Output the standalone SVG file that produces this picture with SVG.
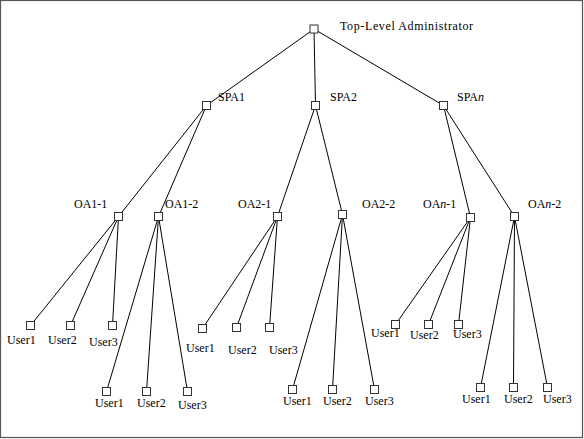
<svg xmlns="http://www.w3.org/2000/svg" width="584" height="439" viewBox="0 0 584 439">
<style>
.frame{fill:#fff;stroke:#555;stroke-width:1.2}
.edge{stroke:#000;stroke-width:1;fill:none}
.box{fill:#fff;stroke:#333;stroke-width:1}
.lbl{font-family:"Liberation Serif","Times New Roman",serif;font-size:12px;fill:#000}
.it{font-style:italic}
</style>
<rect class="frame" x="0.5" y="0.5" width="582" height="437"/>
<g id="connectors">
<line class="edge" x1="314" y1="29" x2="206.5" y2="105.5"/>
<line class="edge" x1="314" y1="29" x2="315.5" y2="105.5"/>
<line class="edge" x1="314" y1="29" x2="443.5" y2="105.5"/>
<line class="edge" x1="206.5" y1="105.5" x2="118.5" y2="216.5"/>
<line class="edge" x1="206.5" y1="105.5" x2="158.5" y2="216.5"/>
<line class="edge" x1="315.5" y1="105.5" x2="277.5" y2="216.5"/>
<line class="edge" x1="315.5" y1="105.5" x2="342.5" y2="214.5"/>
<line class="edge" x1="443.5" y1="105.5" x2="470.5" y2="217.5"/>
<line class="edge" x1="443.5" y1="105.5" x2="514.5" y2="216.5"/>
<line class="edge" x1="118.5" y1="216.5" x2="30.5" y2="325.5"/>
<line class="edge" x1="118.5" y1="216.5" x2="70.5" y2="325.5"/>
<line class="edge" x1="118.5" y1="216.5" x2="112.5" y2="325.5"/>
<line class="edge" x1="158.5" y1="216.5" x2="106.5" y2="391.5"/>
<line class="edge" x1="158.5" y1="216.5" x2="146.5" y2="391.5"/>
<line class="edge" x1="158.5" y1="216.5" x2="187.5" y2="391.5"/>
<line class="edge" x1="277.5" y1="216.5" x2="202.5" y2="328.5"/>
<line class="edge" x1="277.5" y1="216.5" x2="236.5" y2="327.5"/>
<line class="edge" x1="277.5" y1="216.5" x2="269.5" y2="327.5"/>
<line class="edge" x1="342.5" y1="214.5" x2="292.5" y2="389.5"/>
<line class="edge" x1="342.5" y1="214.5" x2="332.5" y2="389.5"/>
<line class="edge" x1="342.5" y1="214.5" x2="374.5" y2="389.5"/>
<line class="edge" x1="470.5" y1="217.5" x2="395.5" y2="324.5"/>
<line class="edge" x1="470.5" y1="217.5" x2="428.5" y2="324.5"/>
<line class="edge" x1="470.5" y1="217.5" x2="458.5" y2="324.5"/>
<line class="edge" x1="514.5" y1="216.5" x2="480.5" y2="387.5"/>
<line class="edge" x1="514.5" y1="216.5" x2="513.5" y2="387.5"/>
<line class="edge" x1="514.5" y1="216.5" x2="547.5" y2="387.5"/>
</g>
<g id="top"><rect class="box" x="310" y="25" width="8" height="8"/><text class="lbl" x="340" y="30" textLength="133" lengthAdjust="spacing">Top-Level Administrator</text></g>
<g id="spa1"><rect class="box" x="202.5" y="101.5" width="8" height="8"/><text class="lbl" x="218" y="101">SPA1</text></g>
<g id="spa2"><rect class="box" x="311.5" y="101.5" width="8" height="8"/><text class="lbl" x="330" y="101">SPA2</text></g>
<g id="span"><rect class="box" x="439.5" y="101.5" width="8" height="8"/><text class="lbl" x="457" y="101">SPA<tspan class="it">n</tspan></text></g>
<g id="oa1-1"><rect class="box" x="114.5" y="212.5" width="8" height="8"/><text class="lbl" x="74" y="208">OA1-1</text></g>
<g id="oa1-2"><rect class="box" x="154.5" y="212.5" width="8" height="8"/><text class="lbl" x="165" y="208">OA1-2</text></g>
<g id="oa2-1"><rect class="box" x="273.5" y="212.5" width="8" height="8"/><text class="lbl" x="238" y="208">OA2-1</text></g>
<g id="oa2-2"><rect class="box" x="338.5" y="210.5" width="8" height="8"/><text class="lbl" x="362" y="208">OA2-2</text></g>
<g id="oan-1"><rect class="box" x="466.5" y="213.5" width="8" height="8"/><text class="lbl" x="423" y="208">OA<tspan class="it">n</tspan>-1</text></g>
<g id="oan-2"><rect class="box" x="510.5" y="212.5" width="8" height="8"/><text class="lbl" x="528" y="208">OA<tspan class="it">n</tspan>-2</text></g>
<g id="u11-1"><rect class="box" x="26.5" y="321.5" width="8" height="8"/><text class="lbl" x="7" y="344">User1</text></g>
<g id="u11-2"><rect class="box" x="66.5" y="321.5" width="8" height="8"/><text class="lbl" x="48" y="344">User2</text></g>
<g id="u11-3"><rect class="box" x="108.5" y="321.5" width="8" height="8"/><text class="lbl" x="89" y="346">User3</text></g>
<g id="u12-1"><rect class="box" x="102.5" y="387.5" width="8" height="8"/><text class="lbl" x="95" y="407">User1</text></g>
<g id="u12-2"><rect class="box" x="142.5" y="387.5" width="8" height="8"/><text class="lbl" x="137" y="407">User2</text></g>
<g id="u12-3"><rect class="box" x="183.5" y="387.5" width="8" height="8"/><text class="lbl" x="178" y="409">User3</text></g>
<g id="u21-1"><rect class="box" x="198.5" y="324.5" width="8" height="8"/><text class="lbl" x="186" y="352">User1</text></g>
<g id="u21-2"><rect class="box" x="232.5" y="323.5" width="8" height="8"/><text class="lbl" x="228" y="354">User2</text></g>
<g id="u21-3"><rect class="box" x="265.5" y="323.5" width="8" height="8"/><text class="lbl" x="269" y="354">User3</text></g>
<g id="u22-1"><rect class="box" x="288.5" y="385.5" width="8" height="8"/><text class="lbl" x="283" y="405">User1</text></g>
<g id="u22-2"><rect class="box" x="328.5" y="385.5" width="8" height="8"/><text class="lbl" x="323" y="405">User2</text></g>
<g id="u22-3"><rect class="box" x="370.5" y="385.5" width="8" height="8"/><text class="lbl" x="365" y="405">User3</text></g>
<g id="un1-1"><rect class="box" x="391.5" y="320.5" width="8" height="8"/><text class="lbl" x="371" y="337">User1</text></g>
<g id="un1-2"><rect class="box" x="424.5" y="320.5" width="8" height="8"/><text class="lbl" x="410" y="339">User2</text></g>
<g id="un1-3"><rect class="box" x="454.5" y="320.5" width="8" height="8"/><text class="lbl" x="453" y="338">User3</text></g>
<g id="un2-1"><rect class="box" x="476.5" y="383.5" width="8" height="8"/><text class="lbl" x="462" y="403">User1</text></g>
<g id="un2-2"><rect class="box" x="509.5" y="383.5" width="8" height="8"/><text class="lbl" x="504" y="403">User2</text></g>
<g id="un2-3"><rect class="box" x="543.5" y="383.5" width="8" height="8"/><text class="lbl" x="543" y="403">User3</text></g>
</svg>
